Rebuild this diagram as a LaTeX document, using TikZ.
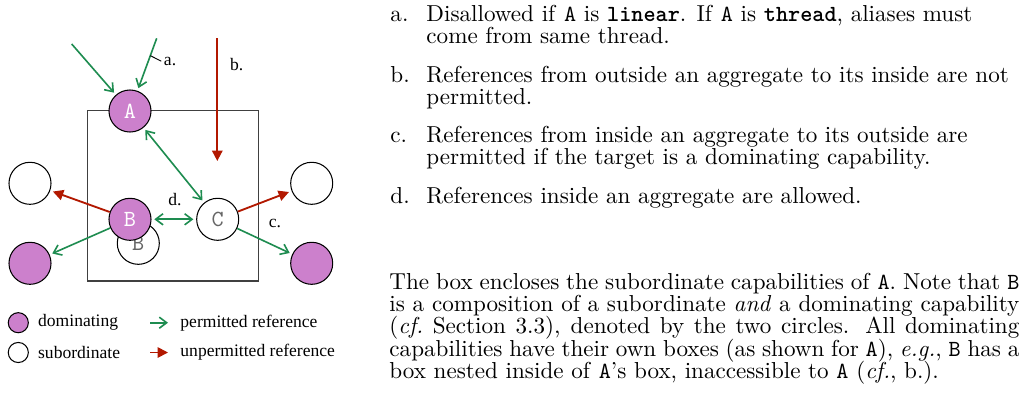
\documentclass[tikz,border=0pt]{standalone}
\usepackage{fontspec}
\newfontfamily\diafont{Liberation Serif}
\usetikzlibrary{arrows.meta}
\definecolor{okgreen}{RGB}{30,140,80}
\definecolor{badred}{RGB}{178,24,0}
\definecolor{dompurple}{RGB}{204,128,204}
\newcommand\tA{\texttt{A}}
\newcommand\tB{\texttt{B}}
\tikzset{
  circbase/.style={circle, draw=black, line width=0.45pt, minimum size=18.2pt, inner sep=0pt,
    font=\ttfamily\fontsize{10}{10}\selectfont},
  domcirc/.style={circbase, fill=dompurple, text=white},
  subcirc/.style={circbase, fill=white, text=black!60},
  legcirc/.style={minimum size=8.7pt},
  okarrow/.style={draw=okgreen, line width=0.7pt, -{Straight Barb[length=3.2pt,width=4.8pt]}, shorten >=1.2pt},
  okboth/.style={okarrow, {Straight Barb[length=3.2pt,width=4.8pt]}-{Straight Barb[length=3.2pt,width=4.8pt]}, shorten <=1.2pt},
  badarrow/.style={draw=badred, line width=0.8pt, -{Triangle[length=4.5pt,width=4.5pt]}, shorten >=1.2pt},
  lbl/.style={font=\diafont\fontsize{7.6}{9}\selectfont, inner sep=0pt},
  txtline/.style={anchor=base west, inner sep=0pt, font=\fontsize{10}{12}\selectfont},
  boxline/.style={draw=black!75, line width=0.55pt},
}
\begin{document}
\begin{tikzpicture}[x=0.4329pt, y=-0.4329pt]
\useasboundingbox (0,0) rectangle (1020,394);
% aggregate box
\draw[boxline] (87.7,110.3) rectangle (258.7,281);
% capabilities
\node[domcirc] (A) at (130,111) {A};
\node[subcirc] (Bs) at (138.3,243.3) {B};
\node[domcirc] (B) at (130,219.3) {B};
\node[subcirc] (C) at (217.7,219.3) {C};
\node[subcirc] (LT) at (30,183.3) {};
\node[domcirc] (LB) at (30,263.3) {};
\node[subcirc] (RT) at (311.7,183.3) {};
\node[domcirc] (RB) at (311.7,263.3) {};
% incoming references to A
\coordinate (s1) at (71.7,44);
\coordinate (s2) at (156.7,38.3);
\draw[okarrow] (s1) -- (A);
\draw[okarrow] (s2) -- coordinate[pos=0.33] (apin) (A);
\node[lbl, anchor=west] (alab) at (163.5,61.2) {a.};
\draw[line width=0.4pt] (apin) -- ([xshift=-1pt]alab.west);
% reference from outside into the box
\coordinate (s3) at (217.3,38.3);
\coordinate (e3) at (217.3,161);
\draw[badarrow, shorten >=0pt] (s3) -- (e3);
\node[lbl] (blab) at (236.7,65) {b.};
% references inside the box
\draw[okboth] (A) -- (C);
\draw[okboth] (B) -- (C);
\node[lbl] (dlab) at (175,199.3) {d.};
% references leaving the box
\draw[badarrow] (B) -- (LT);
\draw[okarrow] (B) -- (LB);
\draw[badarrow] (C) -- (RT);
\draw[okarrow] (C) -- (RB);
\node[lbl] (clab) at (275,223) {c.};
% legend
\node[domcirc, legcirc] (Ld) at (18.3,322.7) {};
\node[lbl, anchor=west] (Ldt) at (37.7,322.7) {dominating};
\node[subcirc, legcirc] (Ls) at (18.3,352.5) {};
\node[lbl, anchor=west] (Lst) at (37.7,352.5) {subordinate};
\coordinate (g1) at (150,322.7);
\coordinate (g2) at (168,322.7);
\draw[okarrow, shorten >=0pt] (g1) -- (g2);
\node[lbl, anchor=west] (Lgt) at (180,322.7) {permitted reference};
\coordinate (r1) at (150,352.5);
\coordinate (r2) at (168,352.5);
\draw[badarrow, shorten >=0pt] (r1) -- (r2);
\node[lbl, anchor=west] (Lrt) at (180,352.5) {unpermitted reference};
% list
\node[txtline] (la) at (390,21.5) {a.};
\node[txtline] (ta1) at (426,21.5) {Disallowed if \tA{} is \textbf{\texttt{linear}}. If \tA{} is \textbf{\texttt{thread}}, aliases must};
\node[txtline] (ta2) at (426,43.9) {come from same thread.};
\node[txtline] (lb) at (390,82) {b.};
\node[txtline] (tb1) at (426,82) {References from outside an aggregate to its inside are not};
\node[txtline] (tb2) at (426,104.4) {permitted.};
\node[txtline] (lc) at (390,142.5) {c.};
\node[txtline] (tc1) at (426,142.5) {References from inside an aggregate to its outside are};
\node[txtline] (tc2) at (426,164.9) {permitted if the target is a dominating capability.};
\node[txtline] (ld) at (390,203) {d.};
\node[txtline] (td1) at (426,203) {References inside an aggregate are allowed.};
% paragraph
\node[txtline] (p1) at (389,289) {\makebox[272.7pt][s]{The box encloses the subordinate capabilities of \tA. Note that \tB}};
\node[txtline] (p2) at (389,311.4) {\makebox[272.7pt][s]{is a composition of a subordinate \emph{and} a dominating capability}};
\node[txtline] (p3) at (389,333.8) {\makebox[272.7pt][s]{(\emph{cf.}\ Section 3.3), denoted by the two circles. All dominating}};
\node[txtline] (p4) at (389,356.2) {\makebox[272.7pt][s]{capabilities have their own boxes (as shown for \tA), \emph{e.g.}, \tB{} has a}};
\node[txtline] (p5) at (389,378.6) {box nested inside of \tA's box, inaccessible to \tA{} (\emph{cf.}, b.).};
\end{tikzpicture}
\end{document}
